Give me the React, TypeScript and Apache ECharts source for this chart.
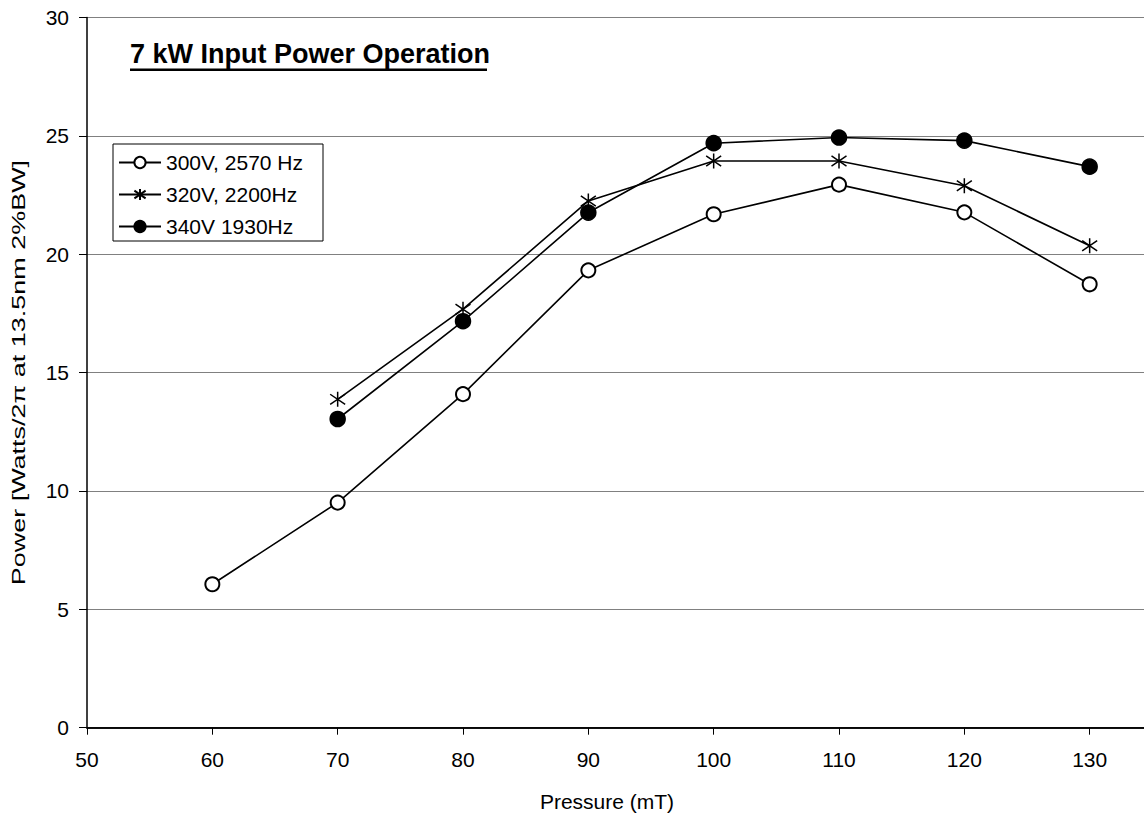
import React, { useEffect, useRef } from "react";
import * as echarts from "echarts";

const pressures = [60, 70, 80, 90, 100, 110, 120, 130];
const s300 = [6.06, 9.51, 14.09, 19.32, 21.69, 22.94, 21.77, 18.73];
const s320 = [null, 13.87, 17.68, 22.25, 23.94, 23.94, 22.89, 20.36];
const s340 = [null, 13.04, 17.17, 21.76, 24.69, 24.93, 24.8, 23.7];
const seriesNames = ["300V, 2570 Hz", "320V, 2200Hz", "340V 1930Hz"];
const titleText = "7 kW Input Power Operation";
const xTitle = "Pressure (mT)";
const yTitle = "Power [Watts/2\u03c0 at 13.5nm 2%BW]";

const FONT = "Liberation Sans, Arial, Helvetica, sans-serif";
const STAR = "path://M5,0 L5,10 M0.6,1.6 L9.4,8.4 M0.6,8.4 L9.4,1.6";

function pairs(vals: (number | null)[]) {
  return pressures
    .map((p, i) => [p, vals[i]])
    .filter((d) => d[1] !== null);
}

export default function App() {
  const ref = useRef<HTMLDivElement>(null);
  useEffect(() => {
    if (!ref.current) return;
    const chart = echarts.init(ref.current, null, { renderer: "svg" });
    const lineBase = {
      type: "line" as const,
      lineStyle: { color: "#000", width: 1.6 },
      itemStyle: { color: "#000", borderColor: "#000", borderWidth: 1.5 },
      emphasis: { disabled: true },
    };
    chart.setOption({
      animation: false,
      backgroundColor: "#fff",
      textStyle: { fontFamily: FONT },
      grid: { left: 87, top: 17.5, bottom: 97.3, right: 0, containLabel: false, outerBoundsMode: "none" },
      legend: {
        left: 113,
        top: 144,
        orient: "vertical",
        backgroundColor: "#fff",
        borderColor: "#000",
        borderWidth: 1,
        borderRadius: 0,
        padding: [8, 20, 4, 5],
        itemWidth: 42,
        itemHeight: 14,
        itemGap: 11,
        textStyle: { fontSize: 21, color: "#000", fontFamily: FONT },
        data: seriesNames,
      },
      xAxis: [
        {
          type: "value",
          min: 50,
          max: 140,
          interval: 10,
          axisLine: { show: true, onZero: false, lineStyle: { color: "#000", width: 1.5 } },
          axisTick: { show: true, length: 7, lineStyle: { color: "#000" } },
          axisLabel: { fontSize: 21, color: "#000", margin: 21, fontFamily: FONT, showMaxLabel: false },
          splitLine: { show: false },
        },
        {
          type: "value",
          position: "top",
          min: 50,
          max: 140,
          axisLine: { show: true, lineStyle: { color: "#000", width: 1.5 } },
          axisTick: { show: false },
          axisLabel: { show: false },
          splitLine: { show: false },
        },
      ],
      yAxis: {
        type: "value",
        min: 0,
        max: 30,
        interval: 5,
        axisLine: { show: true, lineStyle: { color: "#000", width: 1.5 } },
        axisTick: { show: true, length: 8, lineStyle: { color: "#000" } },
        axisLabel: { fontSize: 21, color: "#000", margin: 18, fontFamily: FONT },
        splitLine: { show: true, lineStyle: { color: "#808080", width: 1 } },
      },
      series: [
        { ...lineBase, name: seriesNames[0], data: pairs(s300), symbol: "emptyCircle", symbolSize: 14 },
        { ...lineBase, name: seriesNames[1], data: pairs(s320), symbol: STAR, symbolSize: 15 },
        { ...lineBase, name: seriesNames[2], data: pairs(s340), symbol: "circle", symbolSize: 15 },
      ],
      graphic: [
        {
          type: "text",
          left: 130,
          top: 40,
          style: { text: titleText, fontSize: 27, fontWeight: "bold", fill: "#000", fontFamily: FONT },
        },
        {
          type: "line",
          shape: { x1: 130, y1: 69.7, x2: 487, y2: 69.7 },
          style: { stroke: "#000", lineWidth: 2.5 },
        },
        {
          type: "text",
          x: 607,
          y: 801,
          style: { text: xTitle, fontSize: 21, fill: "#000", fontFamily: FONT, align: "center", verticalAlign: "middle" },
        },
        {
          type: "text",
          x: 18,
          y: 372.6,
          rotation: Math.PI / 2,
          scaleX: 1.42,
          style: { text: yTitle, fontSize: 19, fill: "#000", fontFamily: FONT, align: "center", verticalAlign: "middle" },
        },
      ],
    });
    return () => chart.dispose();
  }, []);
  return (
    <div style={{ position: "absolute", left: 0, top: 0, width: 1144, height: 825, overflow: "hidden", background: "#fff" }}>
      <div ref={ref} style={{ width: 1215, height: 825 }} />
    </div>
  );
}
